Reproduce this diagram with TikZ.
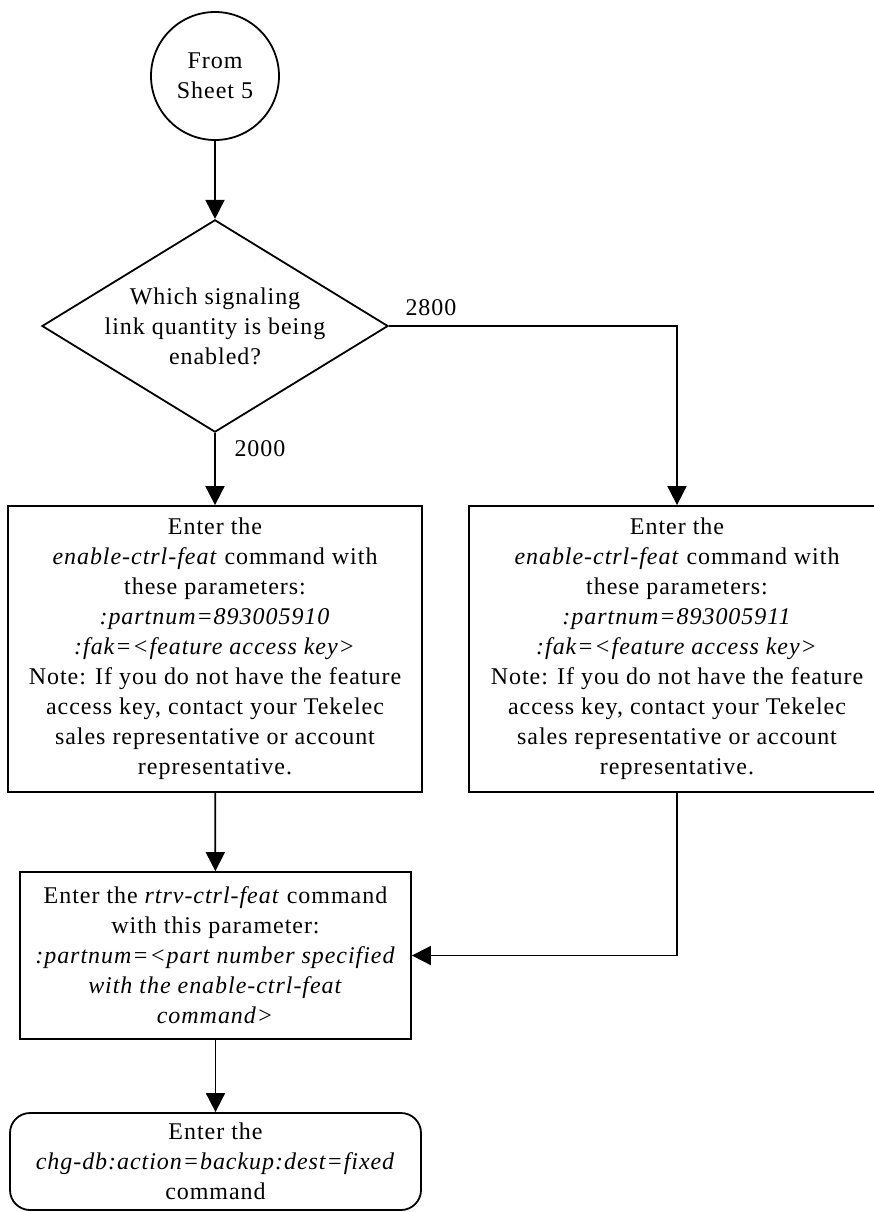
\documentclass[tikz,border=0pt]{standalone}
\usepackage{fontspec}
\setmainfont{Liberation Serif}[LetterSpace=4]
\usetikzlibrary{arrows.meta,shapes.geometric}
\tikzset{
    base/.style={draw, line width=0.9pt, align=center,
                 font=\fontsize{12}{15}\selectfont},
    box/.style={base, rectangle, inner sep=2pt},
    terminal/.style={box, rounded corners=10pt},
    sheet/.style={base, circle, minimum size=64pt, inner sep=0pt},
    choice/.style={base, diamond, aspect=1.63, inner sep=0pt,
                   minimum width=173pt, minimum height=106pt},
    flow/.style={-{Triangle[length=9.5pt, width=9.5pt]}, line width=0.9pt},
    note/.style={font=\fontsize{12}{15}\selectfont},
}
\begin{document}
\begin{tikzpicture}[x=0.5pt, y=-0.5pt]
    \useasboundingbox (0,0) rectangle (874,1212);
    \clip (0,0) rectangle (874,1212);

    \node[sheet] (from) at (215,76) {From\\Sheet 5};
    \node[choice] (which) at (215,326) {Which signaling\\link quantity is being\\enabled?};
    \node[box, minimum width=207pt, minimum height=143pt] (en2000) at (215,649)
        {Enter the\\\textit{enable-ctrl-feat} command with\\these parameters:\\
         \textit{:partnum=893005910}\\\textit{:fak=<feature access key>}\\
         Note: If you do not have the feature\\access key, contact your Tekelec\\
         sales representative or account\\representative.};
    \node[box, minimum width=208pt, minimum height=143pt] (en2800) at (677,649)
        {Enter the\\\textit{enable-ctrl-feat} command with\\these parameters:\\
         \textit{:partnum=893005911}\\\textit{:fak=<feature access key>}\\
         Note: If you do not have the feature\\access key, contact your Tekelec\\
         sales representative or account\\representative.};
    \node[box, minimum width=195.5pt, minimum height=83.5pt] (rtrv) at (215.5,955.5)
        {Enter the \textit{rtrv-ctrl-feat} command\\with this parameter:\\
         \textit{:partnum=<part number specified}\\\textit{with the enable-ctrl-feat}\\
         \textit{command>}};
    \node[terminal, minimum width=205.5pt, minimum height=48.5pt] (backup) at (215.5,1161.5)
        {Enter the\\\textit{chg-db:action=backup:dest=fixed}\\command};

    % branch labels
    \node[note] (l2800) at (431,308) {2800};
    \node[note] (l2000) at (260,449) {2000};

    \draw[flow] (from) -- (which);
    \draw[flow] (which) -- (en2000);
    \draw[flow] (which.east) -| (en2800);
    \draw[flow] (en2000) -- (rtrv);
    \draw[flow] (en2800) |- (rtrv);
    \draw[flow] (rtrv) -- (backup);

\end{tikzpicture}
\end{document}
